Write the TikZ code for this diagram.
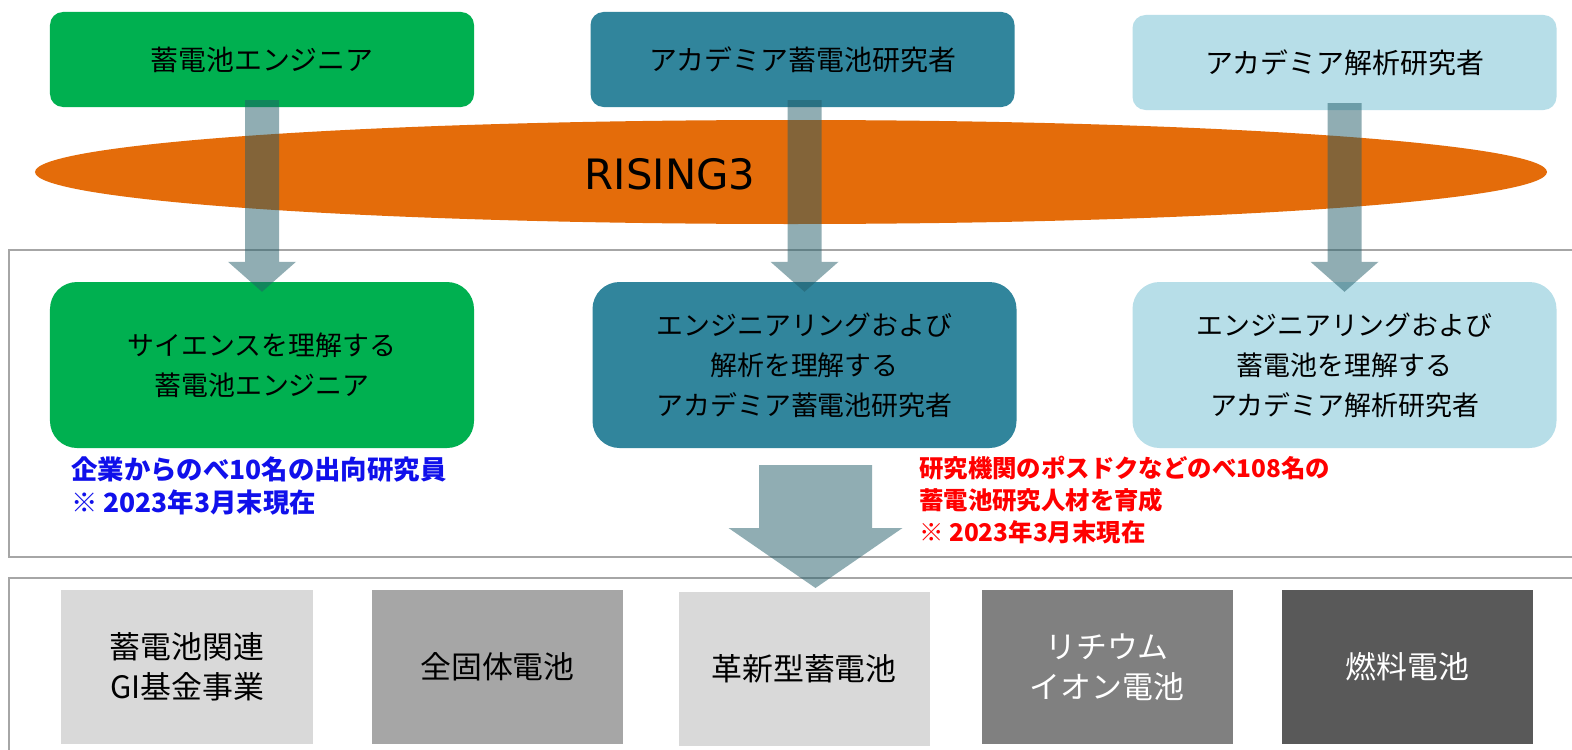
\documentclass[tikz,border=0pt]{standalone}
\usepackage{fontspec}
\setmainfont{Noto Sans CJK JP}
\newfontfamily\risingfont{DejaVu Sans}
\usetikzlibrary{shapes.geometric,calc}
\definecolor{cgreen}{RGB}{0,176,80}
\definecolor{cteal}{RGB}{49,133,156}
\definecolor{clblue}{RGB}{183,222,232}
\definecolor{corange}{RGB}{228,108,10}
\definecolor{carrow}{RGB}{35,93,105}
\definecolor{cframe}{RGB}{166,166,166}
\definecolor{cg1}{RGB}{217,217,217}
\definecolor{cg2}{RGB}{166,166,166}
\definecolor{cg3}{RGB}{128,128,128}
\definecolor{cg4}{RGB}{89,89,89}
\definecolor{cblue}{RGB}{16,16,235}
\definecolor{cred}{RGB}{255,0,0}
\tikzset{
  topbox/.style={rectangle,rounded corners=13bp,inner sep=0pt,minimum width=424bp,minimum height=95bp,align=center,font=\fontsize{28}{34}\selectfont},
  midbox/.style={rectangle,rounded corners=27bp,inner sep=0pt,minimum width=424bp,minimum height=166bp,align=center,font=\fontsize{27}{40}\selectfont},
  botbox/.style={rectangle,inner sep=0pt,minimum width=251bp,minimum height=154bp,align=center,font=\fontsize{31}{40}\selectfont},
  arr/.style={fill=carrow,fill opacity=0.5},
  framebox/.style={draw=cframe,line width=1.5bp},
  note/.style={inner sep=0pt,anchor=north west,align=left,font=\bfseries\fontsize{25}{32}\selectfont}
}
\newcommand\varrow[2]{%
  \fill[arr] ($(#2.north |- #1.south)+(-17,-7)$) -- ($(#2.north)+(-17,-20)$) -- ($(#2.north)+(-34,-20)$) -- ($(#2.north)+(0,10)$) -- ($(#2.north)+(34,-20)$) -- ($(#2.north)+(17,-20)$) -- ($(#2.north |- #1.south)+(17,-7)$) -- cycle;}
\begin{document}
\begin{tikzpicture}[x=1bp,y=-1bp]
\useasboundingbox (0,0) rectangle (1572,750);
\fill[white] (0,0) rectangle (1572,750);
% frames
\draw[framebox] (1590,250) -- (9,250) -- (9,557) -- (1590,557);
\draw[framebox] (1590,578) -- (9,578) -- (9,760);
% top boxes
\node[topbox,fill=cgreen] (t1) at (262,59.5) {蓄電池エンジニア};
\node[topbox,fill=cteal] (t2) at (802.5,59.5) {アカデミア蓄電池研究者};
\node[topbox,fill=clblue] (t3) at (1344.5,62.5) {アカデミア解析研究者};
% ellipse
\node[ellipse,fill=corange,inner sep=0pt,minimum width=1512bp,minimum height=104bp] (rising) at (791,172) {};
\node[font=\risingfont\fontsize{42}{42}\selectfont,inner sep=0pt] (risingtxt) at (670,174) {RISING3};
% middle boxes
\node[midbox,fill=cgreen] (m1) at (262,365) {サイエンスを理解する\\蓄電池エンジニア};
\node[midbox,fill=cteal] (m2) at (804.5,365) {エンジニアリングおよび\\解析を理解する\\アカデミア蓄電池研究者};
\node[midbox,fill=clblue] (m3) at (1344.5,365) {エンジニアリングおよび\\蓄電池を理解する\\アカデミア解析研究者};
% notes
\node[note,text=cblue,font=\bfseries\fontsize{26.5}{33}\selectfont] (n1) at (71,457) {企業からのべ10名の出向研究員\\※ 2023年3月末現在};
\node[note,text=cred,font=\bfseries\fontsize{24.5}{32}\selectfont] (n2) at (919,456) {研究機関のポスドクなどのべ108名の\\蓄電池研究人材を育成\\※ 2023年3月末現在};
% bottom boxes
\node[botbox,fill=cg1] (b1) at (187,667) {蓄電池関連\\GI基金事業};
\node[botbox,fill=cg2] (b2) at (497.5,667) {全固体電池};
\node[botbox,fill=cg1] (b3) at (804,669) {革新型蓄電池};
\node[botbox,fill=cg3,text=white] (b4) at (1107,667) {リチウム\\イオン電池};
\node[botbox,fill=cg4,text=white] (b5) at (1407.5,667) {燃料電池};
% arrows
\varrow{t1}{m1}
\varrow{t2}{m2}
\varrow{t3}{m3}
\coordinate (bigtop) at (815.5,465);
\coordinate (bigtip) at (815.5,588);
\fill[arr] ($(bigtop)+(-56.5,0)$) -- ($(bigtip)+(-56.5,-60)$) -- ($(bigtip)+(-87,-60)$) -- (bigtip) -- ($(bigtip)+(87,-60)$) -- ($(bigtip)+(56.5,-60)$) -- ($(bigtop)+(56.5,0)$) -- cycle;
\end{tikzpicture}
\end{document}
